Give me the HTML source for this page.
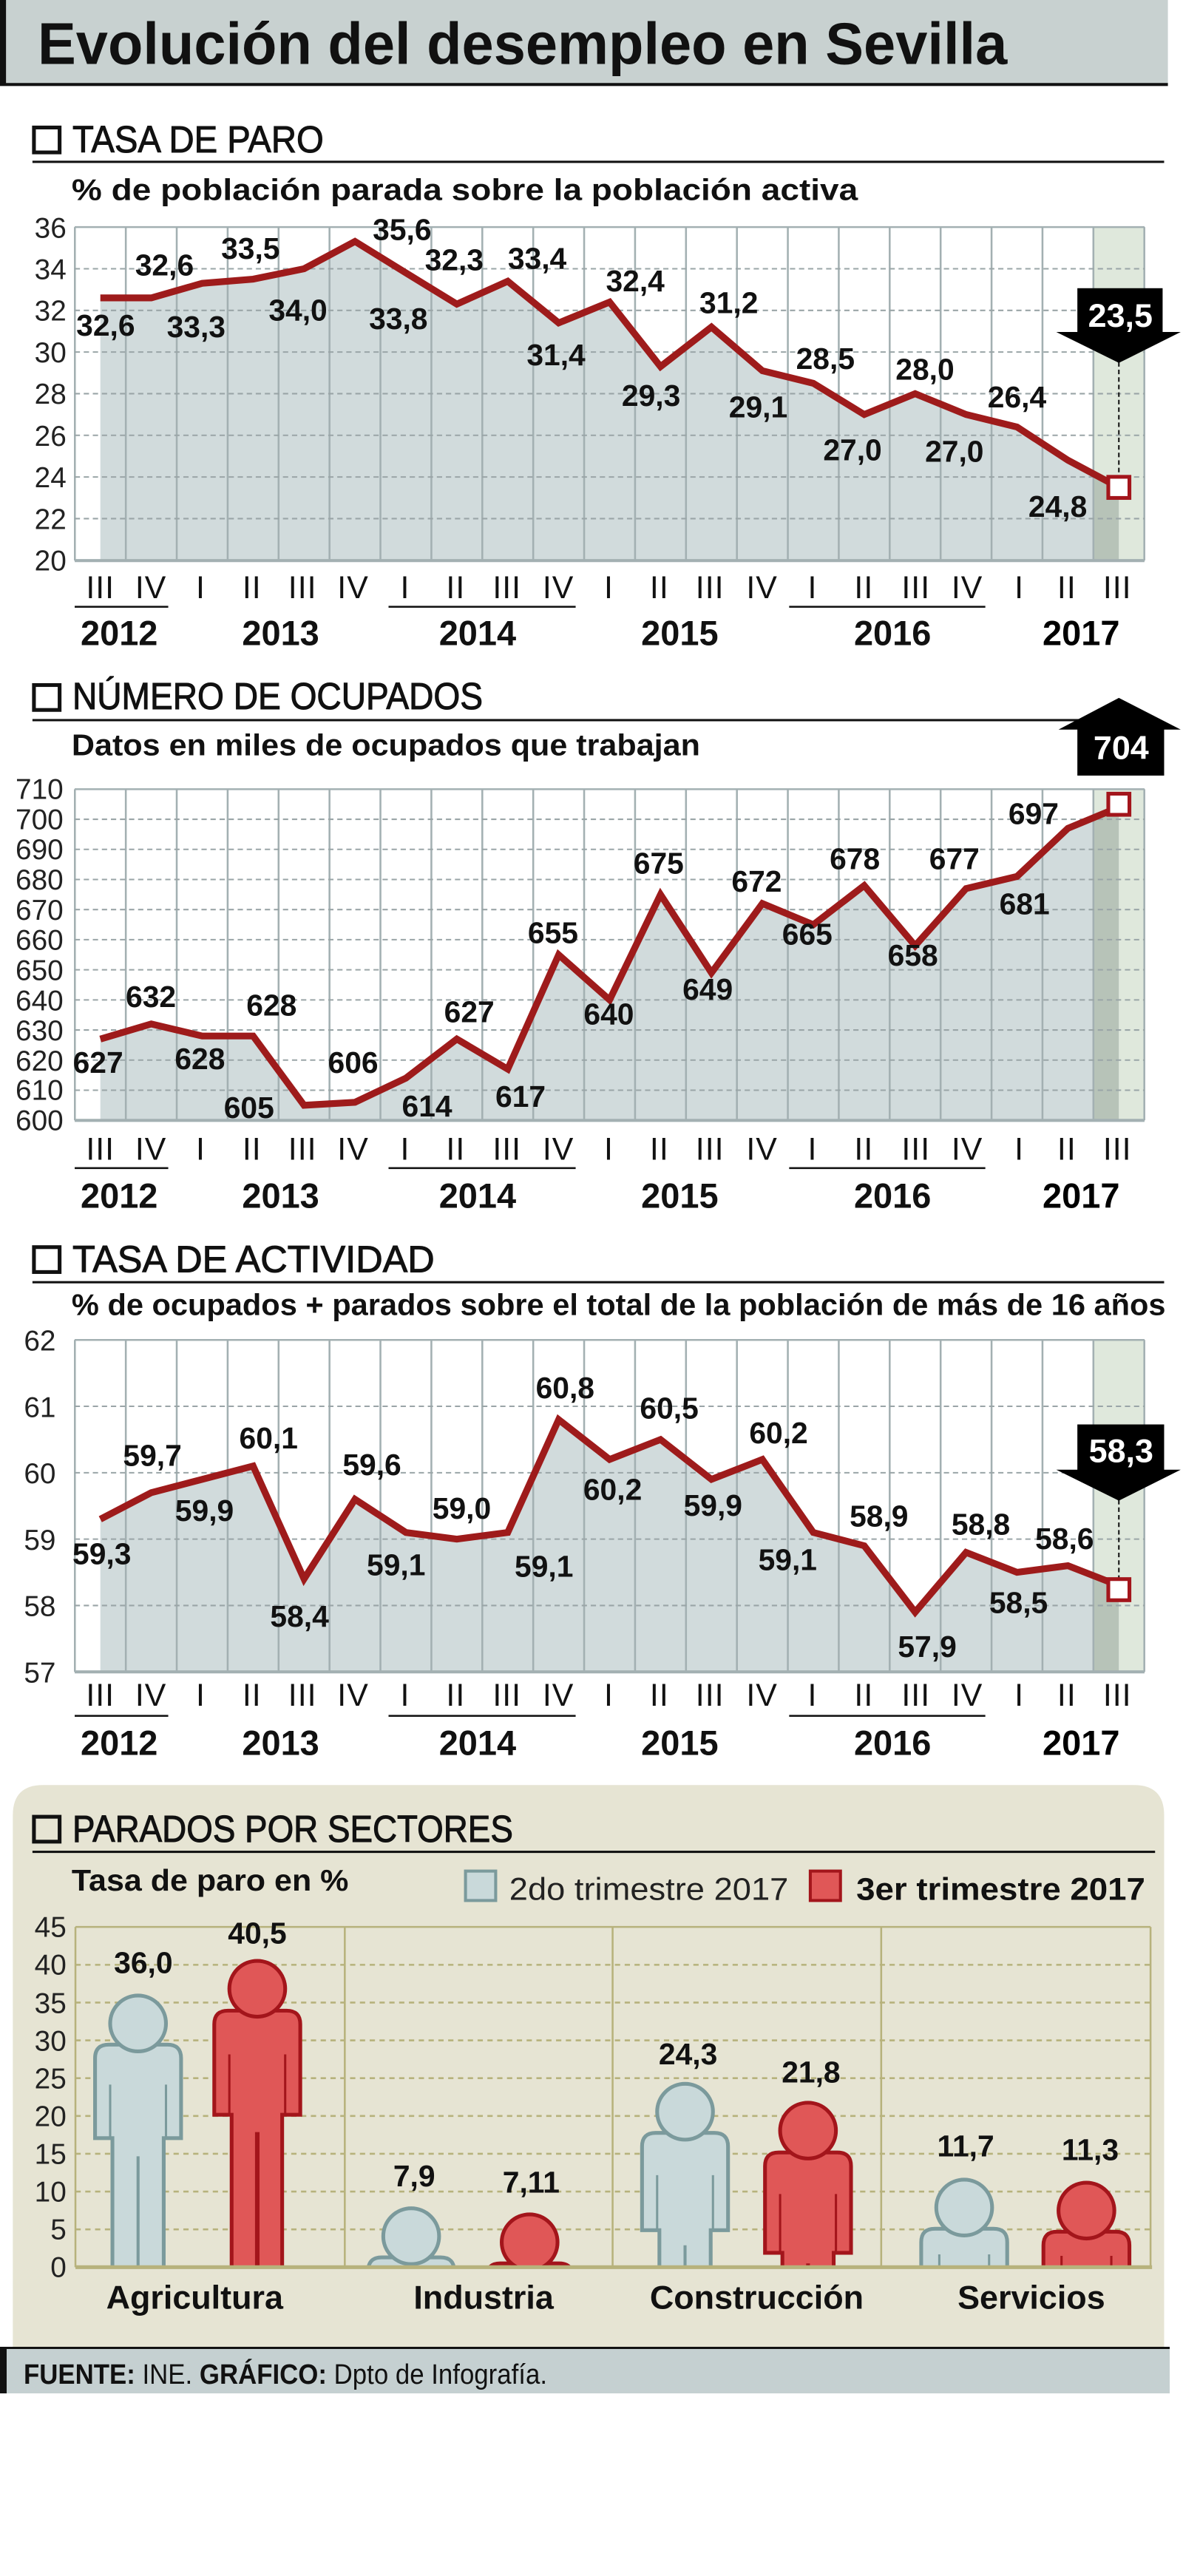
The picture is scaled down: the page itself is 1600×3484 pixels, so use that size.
<!DOCTYPE html>
<html><head><meta charset="utf-8">
<style>
html,body{margin:0;padding:0;background:#fff;}
svg{display:block;}
text{font-family:"Liberation Sans",sans-serif;}
.v{font-weight:bold;font-size:40px;fill:#111;text-anchor:middle;}
.r{font-family:"Liberation Serif",serif;font-size:42px;fill:#111;text-anchor:middle;letter-spacing:1px;}
.yr{font-weight:bold;font-size:46px;fill:#111;text-anchor:middle;}
.yl{font-size:38px;fill:#222;text-anchor:end;}
.hd{font-size:50px;fill:#111;stroke:#111;stroke-width:1;}
.sb{font-weight:bold;font-size:40px;fill:#111;}
.gv{stroke:#a3b0b2;stroke-width:2.5;}
.gh{stroke:#9aa5a7;stroke-width:2;stroke-dasharray:7,5;}
.ln{fill:none;stroke:#9e1b1b;stroke-width:9;stroke-linejoin:miter;}
</style></head>
<body>
<svg width="1600" height="3484" viewBox="0 0 1600 3484" xmlns="http://www.w3.org/2000/svg">
<rect width="1600" height="3484" fill="#fff"/>
<defs>
<clipPath id="col1"><rect x="1449" y="0" width="34" height="3000"/></clipPath>
<clipPath id="gnd"><rect x="0" y="0" width="1600" height="1436"/></clipPath>
</defs>

<g transform="scale(1.0204)">
<!-- Title -->
<rect x="8" y="0" width="1540" height="112" fill="#c8d1d0"/>
<rect x="0" y="0" width="8" height="112" fill="#111"/>
<rect x="0" y="110" width="1548" height="4" fill="#111"/>
<text x="50" y="85" font-size="78" font-weight="bold" fill="#111" textLength="1285" lengthAdjust="spacingAndGlyphs">Evolución del desempleo en Sevilla</text>

<!-- ===== Chart 1 ===== -->
<rect x="45" y="169" width="34" height="33" fill="none" stroke="#111" stroke-width="5"/>
<text class="hd" x="96" y="202" textLength="333" lengthAdjust="spacingAndGlyphs">TASA DE PARO</text>
<rect x="43" y="213" width="1500" height="3" fill="#111"/>
<text class="sb" x="95" y="265" textLength="1042" lengthAdjust="spacingAndGlyphs">% de población parada sobre la población activa</text>

<rect x="1449" y="301" width="68" height="442" fill="#dfe8dc"/>
<polygon fill="#d1dbdc" points="133,394.8 200.5,394.8 268,375.5 335.5,370 403,356.2 470.5,320 538,361.7 605.5,403.1 673,372.8 740.5,428 808,400.4 875.5,485.9 943,433.5 1010.5,491.4 1078,508 1145.5,549.4 1213,521.8 1280.5,549.4 1348,566 1415.5,610 1483,646 1483,743 133,743"/>
<polygon clip-path="url(#col1)" fill="#b7c3b8" points="1415.5,610 1483,646 1483,743 1415.5,743"/>
<g class="gv">
<line x1="99.25" y1="301" x2="99.25" y2="743"/><line x1="166.75" y1="301" x2="166.75" y2="743"/><line x1="234.25" y1="301" x2="234.25" y2="743"/><line x1="301.75" y1="301" x2="301.75" y2="743"/><line x1="369.25" y1="301" x2="369.25" y2="743"/><line x1="436.75" y1="301" x2="436.75" y2="743"/><line x1="504.25" y1="301" x2="504.25" y2="743"/><line x1="571.75" y1="301" x2="571.75" y2="743"/><line x1="639.25" y1="301" x2="639.25" y2="743"/><line x1="706.75" y1="301" x2="706.75" y2="743"/><line x1="774.25" y1="301" x2="774.25" y2="743"/><line x1="841.75" y1="301" x2="841.75" y2="743"/><line x1="909.25" y1="301" x2="909.25" y2="743"/><line x1="976.75" y1="301" x2="976.75" y2="743"/><line x1="1044.25" y1="301" x2="1044.25" y2="743"/><line x1="1111.75" y1="301" x2="1111.75" y2="743"/><line x1="1179.25" y1="301" x2="1179.25" y2="743"/><line x1="1246.75" y1="301" x2="1246.75" y2="743"/><line x1="1314.25" y1="301" x2="1314.25" y2="743"/><line x1="1381.75" y1="301" x2="1381.75" y2="743"/><line x1="1449.25" y1="301" x2="1449.25" y2="743"/><line x1="1516.75" y1="301" x2="1516.75" y2="743"/>
<line x1="99" y1="301" x2="1517" y2="301"/><line x1="99" y1="743" x2="1517" y2="743" stroke-width="4"/>
</g>
<g class="gh">
<line x1="99" y1="356.2" x2="1517" y2="356.2"/><line x1="99" y1="411.4" x2="1517" y2="411.4"/><line x1="99" y1="466.6" x2="1517" y2="466.6"/><line x1="99" y1="521.8" x2="1517" y2="521.8"/><line x1="99" y1="577" x2="1517" y2="577"/><line x1="99" y1="632.2" x2="1517" y2="632.2"/><line x1="99" y1="687.4" x2="1517" y2="687.4"/>
</g>
<g class="yl">
<text x="88" y="315">36</text><text x="88" y="370">34</text><text x="88" y="425">32</text><text x="88" y="480">30</text><text x="88" y="535">28</text><text x="88" y="591">26</text><text x="88" y="646">24</text><text x="88" y="701">22</text><text x="88" y="756">20</text>
</g>
<polyline class="ln" points="133,394.8 200.5,394.8 268,375.5 335.5,370 403,356.2 470.5,320 538,361.7 605.5,403.1 673,372.8 740.5,428 808,400.4 875.5,485.9 943,433.5 1010.5,491.4 1078,508 1145.5,549.4 1213,521.8 1280.5,549.4 1348,566 1415.5,610 1483,646"/>
<line x1="1483" y1="480" x2="1483" y2="632" stroke="#111" stroke-width="2" stroke-dasharray="6,4"/>
<rect x="1469" y="632" width="28" height="28" fill="#fff" stroke="#a3151b" stroke-width="5"/>
<rect x="1428" y="382" width="113" height="59" fill="#000"/>
<polygon points="1400,440 1565,440 1483,481" fill="#000"/>
<text x="1485" y="433" font-size="44" font-weight="bold" fill="#fff" text-anchor="middle">23,5</text>
<g class="v">
<text x="140" y="445">32,6</text><text x="218" y="365">32,6</text><text x="260" y="447">33,3</text><text x="332" y="343">33,5</text><text x="395" y="425">34,0</text><text x="533" y="318">35,6</text><text x="528" y="436">33,8</text><text x="602" y="358">32,3</text><text x="712" y="356">33,4</text><text x="737" y="484">31,4</text><text x="842" y="386">32,4</text><text x="863" y="538">29,3</text><text x="966" y="415">31,2</text><text x="1005" y="553">29,1</text><text x="1094" y="489">28,5</text><text x="1130" y="610">27,0</text><text x="1226" y="503">28,0</text><text x="1265" y="612">27,0</text><text x="1348" y="540">26,4</text><text x="1402" y="685">24,8</text>
</g>
<g class="r">
<text x="133" y="793">III</text><text x="200" y="793">IV</text><text x="266" y="793">I</text><text x="334" y="793">II</text><text x="401" y="793">III</text><text x="468" y="793">IV</text><text x="537" y="793">I</text><text x="604" y="793">II</text><text x="672" y="793">III</text><text x="740" y="793">IV</text><text x="807" y="793">I</text><text x="874" y="793">II</text><text x="941" y="793">III</text><text x="1010" y="793">IV</text><text x="1077" y="793">I</text><text x="1145" y="793">II</text><text x="1214" y="793">III</text><text x="1282" y="793">IV</text><text x="1351" y="793">I</text><text x="1414" y="793">II</text><text x="1481" y="793">III</text>
</g>
<g fill="#111"><rect x="99" y="803" width="124" height="2.5"/><rect x="515" y="803" width="248" height="2.5"/><rect x="1046" y="803" width="260" height="2.5"/></g>
<g class="yr">
<text x="158" y="855">2012</text><text x="372" y="855">2013</text><text x="633" y="855">2014</text><text x="901" y="855">2015</text><text x="1183" y="855">2016</text><text x="1433" y="855" fill="#000">2017</text>
</g>

<!-- ===== Chart 2 ===== -->
<rect x="45" y="908" width="34" height="33" fill="none" stroke="#111" stroke-width="5"/>
<text class="hd" x="96" y="940" textLength="544" lengthAdjust="spacingAndGlyphs">NÚMERO DE OCUPADOS</text>
<rect x="43" y="953" width="1400" height="3" fill="#111"/>
<text class="sb" x="95" y="1001" textLength="833" lengthAdjust="spacingAndGlyphs">Datos en miles de ocupados que trabajan</text>

<rect x="1449" y="1046" width="68" height="439" fill="#dfe8dc"/>
<polygon fill="#d1dbdc" points="133,1377.2 200.5,1357.2 268,1373.2 335.5,1373.2 403,1465 470.5,1461 538,1429 605.5,1377.2 673,1417 740.5,1265.5 808,1325.3 875.5,1185.7 943,1289.4 1010.5,1197.6 1078,1225.6 1145.5,1173.7 1213,1253.5 1280.5,1177.7 1348,1161.7 1415.5,1097.9 1483,1069.9 1483,1485 133,1485"/>
<polygon clip-path="url(#col1)" fill="#b7c3b8" points="1415.5,1097.9 1483,1069.9 1483,1485 1415.5,1485"/>
<g class="gv">
<line x1="99.25" y1="1046" x2="99.25" y2="1485"/><line x1="166.75" y1="1046" x2="166.75" y2="1485"/><line x1="234.25" y1="1046" x2="234.25" y2="1485"/><line x1="301.75" y1="1046" x2="301.75" y2="1485"/><line x1="369.25" y1="1046" x2="369.25" y2="1485"/><line x1="436.75" y1="1046" x2="436.75" y2="1485"/><line x1="504.25" y1="1046" x2="504.25" y2="1485"/><line x1="571.75" y1="1046" x2="571.75" y2="1485"/><line x1="639.25" y1="1046" x2="639.25" y2="1485"/><line x1="706.75" y1="1046" x2="706.75" y2="1485"/><line x1="774.25" y1="1046" x2="774.25" y2="1485"/><line x1="841.75" y1="1046" x2="841.75" y2="1485"/><line x1="909.25" y1="1046" x2="909.25" y2="1485"/><line x1="976.75" y1="1046" x2="976.75" y2="1485"/><line x1="1044.25" y1="1046" x2="1044.25" y2="1485"/><line x1="1111.75" y1="1046" x2="1111.75" y2="1485"/><line x1="1179.25" y1="1046" x2="1179.25" y2="1485"/><line x1="1246.75" y1="1046" x2="1246.75" y2="1485"/><line x1="1314.25" y1="1046" x2="1314.25" y2="1485"/><line x1="1381.75" y1="1046" x2="1381.75" y2="1485"/><line x1="1449.25" y1="1046" x2="1449.25" y2="1485"/><line x1="1516.75" y1="1046" x2="1516.75" y2="1485"/>
<line x1="99" y1="1046" x2="1517" y2="1046"/><line x1="99" y1="1485" x2="1517" y2="1485" stroke-width="4"/>
</g>
<g class="gh">
<line x1="99" y1="1085.9" x2="1517" y2="1085.9"/><line x1="99" y1="1125.8" x2="1517" y2="1125.8"/><line x1="99" y1="1165.7" x2="1517" y2="1165.7"/><line x1="99" y1="1205.6" x2="1517" y2="1205.6"/><line x1="99" y1="1245.5" x2="1517" y2="1245.5"/><line x1="99" y1="1285.4" x2="1517" y2="1285.4"/><line x1="99" y1="1325.3" x2="1517" y2="1325.3"/><line x1="99" y1="1365.2" x2="1517" y2="1365.2"/><line x1="99" y1="1405.1" x2="1517" y2="1405.1"/><line x1="99" y1="1445" x2="1517" y2="1445"/>
</g>
<g class="yl">
<text x="84" y="1059">710</text><text x="84" y="1099">700</text><text x="84" y="1139">690</text><text x="84" y="1179">680</text><text x="84" y="1219">670</text><text x="84" y="1259">660</text><text x="84" y="1299">650</text><text x="84" y="1339">640</text><text x="84" y="1379">630</text><text x="84" y="1419">620</text><text x="84" y="1458">610</text><text x="84" y="1498">600</text>
</g>
<polyline class="ln" points="133,1377.2 200.5,1357.2 268,1373.2 335.5,1373.2 403,1465 470.5,1461 538,1429 605.5,1377.2 673,1417 740.5,1265.5 808,1325.3 875.5,1185.7 943,1289.4 1010.5,1197.6 1078,1225.6 1145.5,1173.7 1213,1253.5 1280.5,1177.7 1348,1161.7 1415.5,1097.9 1483,1069.9"/>
<rect x="1469" y="1052" width="28" height="28" fill="#fff" stroke="#a3151b" stroke-width="5"/>
<polygon points="1483,925 1403,967 1565,967" fill="#000"/>
<rect x="1428" y="966" width="115" height="62" fill="#000"/>
<text x="1486" y="1006" font-size="44" font-weight="bold" fill="#fff" text-anchor="middle">704</text>
<g class="v">
<text x="130" y="1422">627</text><text x="200" y="1335">632</text><text x="265" y="1417">628</text><text x="360" y="1346">628</text><text x="330" y="1482">605</text><text x="468" y="1422">606</text><text x="566" y="1480">614</text><text x="622" y="1355">627</text><text x="690" y="1467">617</text><text x="733" y="1250">655</text><text x="807" y="1358">640</text><text x="873" y="1158">675</text><text x="938" y="1325">649</text><text x="1003" y="1182">672</text><text x="1070" y="1252">665</text><text x="1133" y="1152">678</text><text x="1210" y="1280">658</text><text x="1265" y="1152">677</text><text x="1358" y="1212">681</text><text x="1370" y="1092">697</text>
</g>
<g class="r">
<text x="133" y="1537">III</text><text x="200" y="1537">IV</text><text x="266" y="1537">I</text><text x="334" y="1537">II</text><text x="401" y="1537">III</text><text x="468" y="1537">IV</text><text x="537" y="1537">I</text><text x="604" y="1537">II</text><text x="672" y="1537">III</text><text x="740" y="1537">IV</text><text x="807" y="1537">I</text><text x="874" y="1537">II</text><text x="941" y="1537">III</text><text x="1010" y="1537">IV</text><text x="1077" y="1537">I</text><text x="1145" y="1537">II</text><text x="1214" y="1537">III</text><text x="1282" y="1537">IV</text><text x="1351" y="1537">I</text><text x="1414" y="1537">II</text><text x="1481" y="1537">III</text>
</g>
<g fill="#111"><rect x="99" y="1547" width="124" height="2.5"/><rect x="515" y="1547" width="248" height="2.5"/><rect x="1046" y="1547" width="260" height="2.5"/></g>
<g class="yr">
<text x="158" y="1601">2012</text><text x="372" y="1601">2013</text><text x="633" y="1601">2014</text><text x="901" y="1601">2015</text><text x="1183" y="1601">2016</text><text x="1433" y="1601" fill="#000">2017</text>
</g>
</g>

<g transform="translate(0,1600) scale(1.0204)">
<!-- ===== Chart 3 ===== -->
<rect x="45" y="85" width="34" height="33" fill="none" stroke="#111" stroke-width="5"/>
<text class="hd" x="96" y="118" textLength="480" lengthAdjust="spacingAndGlyphs">TASA DE ACTIVIDAD</text>
<rect x="43" y="130" width="1500" height="3" fill="#111"/>
<text class="sb" x="95" y="175" textLength="1450" lengthAdjust="spacingAndGlyphs">% de ocupados + parados sobre el total de la población de más de 16 años</text>

<rect x="1449" y="208" width="68" height="440" fill="#dfe8dc"/>
<polygon fill="#d1dbdc" points="133,445.6 200.5,410.4 268,392.8 335.5,375.2 403,524.8 470.5,419.2 538,463.2 605.5,472 673,463.2 740.5,313.6 808,366.4 875.5,340 943,392.8 1010.5,366.4 1078,463.2 1145.5,480.8 1213,568.8 1280.5,489.6 1348,516 1415.5,507.2 1483,533.6 1483,648 133,648"/>
<polygon clip-path="url(#col1)" fill="#b7c3b8" points="1415.5,507.2 1483,533.6 1483,648 1415.5,648"/>
<g class="gv">
<line x1="99.25" y1="208" x2="99.25" y2="648"/><line x1="166.75" y1="208" x2="166.75" y2="648"/><line x1="234.25" y1="208" x2="234.25" y2="648"/><line x1="301.75" y1="208" x2="301.75" y2="648"/><line x1="369.25" y1="208" x2="369.25" y2="648"/><line x1="436.75" y1="208" x2="436.75" y2="648"/><line x1="504.25" y1="208" x2="504.25" y2="648"/><line x1="571.75" y1="208" x2="571.75" y2="648"/><line x1="639.25" y1="208" x2="639.25" y2="648"/><line x1="706.75" y1="208" x2="706.75" y2="648"/><line x1="774.25" y1="208" x2="774.25" y2="648"/><line x1="841.75" y1="208" x2="841.75" y2="648"/><line x1="909.25" y1="208" x2="909.25" y2="648"/><line x1="976.75" y1="208" x2="976.75" y2="648"/><line x1="1044.25" y1="208" x2="1044.25" y2="648"/><line x1="1111.75" y1="208" x2="1111.75" y2="648"/><line x1="1179.25" y1="208" x2="1179.25" y2="648"/><line x1="1246.75" y1="208" x2="1246.75" y2="648"/><line x1="1314.25" y1="208" x2="1314.25" y2="648"/><line x1="1381.75" y1="208" x2="1381.75" y2="648"/><line x1="1449.25" y1="208" x2="1449.25" y2="648"/><line x1="1516.75" y1="208" x2="1516.75" y2="648"/>
<line x1="99" y1="208" x2="1517" y2="208"/><line x1="99" y1="648" x2="1517" y2="648" stroke-width="4"/>
</g>
<g class="gh">
<line x1="99" y1="296" x2="1517" y2="296"/><line x1="99" y1="384" x2="1517" y2="384"/><line x1="99" y1="472" x2="1517" y2="472"/><line x1="99" y1="560" x2="1517" y2="560"/>
</g>
<g class="yl">
<text x="74" y="222">62</text><text x="74" y="310">61</text><text x="74" y="398">60</text><text x="74" y="486">59</text><text x="74" y="574">58</text><text x="74" y="662">57</text>
</g>
<polyline class="ln" points="133,445.6 200.5,410.4 268,392.8 335.5,375.2 403,524.8 470.5,419.2 538,463.2 605.5,472 673,463.2 740.5,313.6 808,366.4 875.5,340 943,392.8 1010.5,366.4 1078,463.2 1145.5,480.8 1213,568.8 1280.5,489.6 1348,516 1415.5,507.2 1483,533.6"/>
<line x1="1483" y1="420" x2="1483" y2="525" stroke="#111" stroke-width="2" stroke-dasharray="6,4"/>
<rect x="1469" y="525" width="28" height="28" fill="#fff" stroke="#a3151b" stroke-width="5"/>
<rect x="1428" y="320" width="115" height="61" fill="#000"/>
<polygon points="1400,380 1565,380 1483,421" fill="#000"/>
<text x="1486" y="370" font-size="44" font-weight="bold" fill="#fff" text-anchor="middle">58,3</text>
<g class="v">
<text x="135" y="505">59,3</text><text x="202" y="375">59,7</text><text x="271" y="448">59,9</text><text x="356" y="352">60,1</text><text x="397" y="588">58,4</text><text x="493" y="387">59,6</text><text x="525" y="520">59,1</text><text x="612" y="445">59,0</text><text x="721" y="522">59,1</text><text x="749" y="285">60,8</text><text x="812" y="420">60,2</text><text x="887" y="312">60,5</text><text x="945" y="441">59,9</text><text x="1032" y="345">60,2</text><text x="1044" y="513">59,1</text><text x="1165" y="455">58,9</text><text x="1229" y="628">57,9</text><text x="1300" y="466">58,8</text><text x="1350" y="570">58,5</text><text x="1411" y="485">58,6</text>
</g>
<g class="r">
<text x="133" y="693">III</text><text x="200" y="693">IV</text><text x="266" y="693">I</text><text x="334" y="693">II</text><text x="401" y="693">III</text><text x="468" y="693">IV</text><text x="537" y="693">I</text><text x="604" y="693">II</text><text x="672" y="693">III</text><text x="740" y="693">IV</text><text x="807" y="693">I</text><text x="874" y="693">II</text><text x="941" y="693">III</text><text x="1010" y="693">IV</text><text x="1077" y="693">I</text><text x="1145" y="693">II</text><text x="1214" y="693">III</text><text x="1282" y="693">IV</text><text x="1351" y="693">I</text><text x="1414" y="693">II</text><text x="1481" y="693">III</text>
</g>
<g fill="#111"><rect x="99" y="705" width="124" height="2.5"/><rect x="515" y="705" width="248" height="2.5"/><rect x="1046" y="705" width="260" height="2.5"/></g>
<g class="yr">
<text x="158" y="758">2012</text><text x="372" y="758">2013</text><text x="633" y="758">2014</text><text x="901" y="758">2015</text><text x="1183" y="758">2016</text><text x="1433" y="758" fill="#000">2017</text>
</g>

<!-- ===== Sectors panel ===== -->
<path d="M17,838 Q17,798 57,798 L1503,798 Q1543,798 1543,838 L1543,1548 L17,1548 Z" fill="#e6e4d3"/>
<rect x="45" y="840" width="34" height="33" fill="none" stroke="#111" stroke-width="5"/>
<text class="hd" x="96" y="873" textLength="584" lengthAdjust="spacingAndGlyphs">PARADOS POR SECTORES</text>
<rect x="43" y="885" width="1488" height="3" fill="#111"/>
<text x="95" y="938" font-size="40" font-weight="bold" fill="#111" textLength="367" lengthAdjust="spacingAndGlyphs">Tasa de paro en %</text>
<rect x="617" y="912" width="40" height="39" fill="#c9d9da" stroke="#7b9a9c" stroke-width="4"/>
<text x="675" y="950" font-size="42" fill="#222" textLength="370" lengthAdjust="spacingAndGlyphs">2do trimestre 2017</text>
<rect x="1074" y="912" width="40" height="39" fill="#e05757" stroke="#a3151b" stroke-width="4"/>
<text x="1135" y="950" font-size="42" font-weight="bold" fill="#111" textLength="383" lengthAdjust="spacingAndGlyphs">3er trimestre 2017</text>

<g stroke="#b7b27c" stroke-width="2.5">
<line x1="100" y1="986" x2="1525" y2="986"/>
<line x1="100" y1="986" x2="100" y2="1437"/><line x1="457" y1="986" x2="457" y2="1437"/><line x1="812" y1="986" x2="812" y2="1437"/><line x1="1168" y1="986" x2="1168" y2="1437"/><line x1="1525" y1="986" x2="1525" y2="1437"/>
</g>
<g stroke="#b7b27c" stroke-width="2.5" stroke-dasharray="7,6">
<line x1="100" y1="1036.2" x2="1525" y2="1036.2"/><line x1="100" y1="1086.3" x2="1525" y2="1086.3"/><line x1="100" y1="1136.4" x2="1525" y2="1136.4"/><line x1="100" y1="1186.5" x2="1525" y2="1186.5"/><line x1="100" y1="1236.6" x2="1525" y2="1236.6"/><line x1="100" y1="1286.7" x2="1525" y2="1286.7"/><line x1="100" y1="1336.8" x2="1525" y2="1336.8"/><line x1="100" y1="1386.9" x2="1525" y2="1386.9"/>
</g>
<g class="yl">
<text x="88" y="999">45</text><text x="88" y="1049">40</text><text x="88" y="1100">35</text><text x="88" y="1150">30</text><text x="88" y="1200">25</text><text x="88" y="1250">20</text><text x="88" y="1300">15</text><text x="88" y="1350">10</text><text x="88" y="1400">5</text><text x="88" y="1450">0</text>
</g>

<g clip-path="url(#gnd)" stroke-width="5">
<!-- Agricultura blue cx183 t1076 -->
<g fill="#c9d9da" stroke="#7b9a9c">
<path d="M126,1266 L126,1160 Q126,1142 144,1142 L222,1142 Q240,1142 240,1160 L240,1266 L217,1266 L217,1445 L149,1445 L149,1266 Z"/>
<circle cx="183" cy="1114" r="37"/>
<line x1="146" y1="1195" x2="146" y2="1264" stroke-width="3"/><line x1="220" y1="1195" x2="220" y2="1264" stroke-width="3"/><line x1="183" y1="1290" x2="183" y2="1445" stroke-width="4"/>
</g>
<!-- Agricultura red cx341 t1030 -->
<g fill="#e05757" stroke="#a3151b">
<path d="M284,1235 L284,1115 Q284,1097 302,1097 L380,1097 Q398,1097 398,1115 L398,1235 L374,1235 L374,1445 L307,1445 L307,1235 Z"/>
<circle cx="341" cy="1068" r="37"/>
<line x1="304" y1="1155" x2="304" y2="1233" stroke-width="3"/><line x1="378" y1="1155" x2="378" y2="1233" stroke-width="3"/><line x1="341" y1="1258" x2="341" y2="1445" stroke-width="6"/>
</g>
<!-- Industria blue cx545 t1358 -->
<g fill="#c9d9da" stroke="#7b9a9c">
<path d="M488,1548 L488,1442 Q488,1424 506,1424 L584,1424 Q602,1424 602,1442 L602,1548 Z"/>
<circle cx="545" cy="1396" r="37"/>
</g>
<!-- Industria red cx702 t1366 -->
<g fill="#e05757" stroke="#a3151b">
<path d="M645,1548 L645,1450 Q645,1432 663,1432 L741,1432 Q759,1432 759,1450 L759,1548 Z"/>
<circle cx="702" cy="1404" r="37"/>
</g>
<!-- Construccion blue cx908 t1193 -->
<g fill="#c9d9da" stroke="#7b9a9c">
<path d="M851,1388 L851,1277 Q851,1259 869,1259 L947,1259 Q965,1259 965,1277 L965,1388 L942,1388 L942,1445 L874,1445 L874,1388 Z"/>
<circle cx="908" cy="1231" r="37"/>
<line x1="871" y1="1315" x2="871" y2="1386" stroke-width="3"/><line x1="945" y1="1315" x2="945" y2="1386" stroke-width="3"/><line x1="908" y1="1408" x2="908" y2="1445" stroke-width="4"/>
</g>
<!-- Construccion red cx1071 t1218 -->
<g fill="#e05757" stroke="#a3151b">
<path d="M1014,1418 L1014,1303 Q1014,1285 1032,1285 L1110,1285 Q1128,1285 1128,1303 L1128,1418 L1105,1418 L1105,1445 L1037,1445 L1037,1418 Z"/>
<circle cx="1071" cy="1256" r="37"/>
<line x1="1034" y1="1340" x2="1034" y2="1416" stroke-width="3"/><line x1="1108" y1="1340" x2="1108" y2="1416" stroke-width="3"/><line x1="1071" y1="1432" x2="1071" y2="1445" stroke-width="5"/>
</g>
<!-- Servicios blue cx1278 t1320 -->
<g fill="#c9d9da" stroke="#7b9a9c">
<path d="M1221,1548 L1221,1404 Q1221,1386 1239,1386 L1317,1386 Q1335,1386 1335,1404 L1335,1548 Z"/>
<circle cx="1278" cy="1358" r="37"/>
<line x1="1245" y1="1420" x2="1245" y2="1445" stroke-width="3"/><line x1="1311" y1="1420" x2="1311" y2="1445" stroke-width="3"/>
</g>
<!-- Servicios red cx1440 t1324 -->
<g fill="#e05757" stroke="#a3151b">
<path d="M1383,1548 L1383,1408 Q1383,1390 1401,1390 L1479,1390 Q1497,1390 1497,1408 L1497,1548 Z"/>
<circle cx="1440" cy="1362" r="37"/>
<line x1="1407" y1="1422" x2="1407" y2="1445" stroke-width="3"/><line x1="1473" y1="1422" x2="1473" y2="1445" stroke-width="3"/>
</g>
</g>
<line x1="100" y1="1437" x2="1527" y2="1437" stroke="#b7b27c" stroke-width="5"/>

<g class="v" font-size="42">
<text x="190" y="1047">36,0</text><text x="341" y="1008">40,5</text><text x="549" y="1330">7,9</text><text x="704" y="1338">7,11</text><text x="912" y="1168">24,3</text><text x="1075" y="1192">21,8</text><text x="1280" y="1290">11,7</text><text x="1445" y="1295">11,3</text>
</g>
<g font-size="44" font-weight="bold" fill="#111" text-anchor="middle">
<text x="258" y="1492">Agricultura</text><text x="641" y="1492">Industria</text><text x="1003" y="1492">Construcción</text><text x="1367" y="1492">Servicios</text>
</g>
</g>

<!-- Footer (original coords) -->
<rect x="0" y="3174" width="1582" height="4" fill="#111"/>
<rect x="9" y="3177" width="1573" height="60" fill="#c5d0d1"/>
<rect x="0" y="3177" width="9" height="60" fill="#111"/>
<text x="32" y="3224" font-size="38" fill="#111" textLength="708" lengthAdjust="spacingAndGlyphs"><tspan font-weight="bold">FUENTE:</tspan> INE. <tspan font-weight="bold">GRÁFICO:</tspan> Dpto de Infografía.</text>
</svg>
</body></html>
